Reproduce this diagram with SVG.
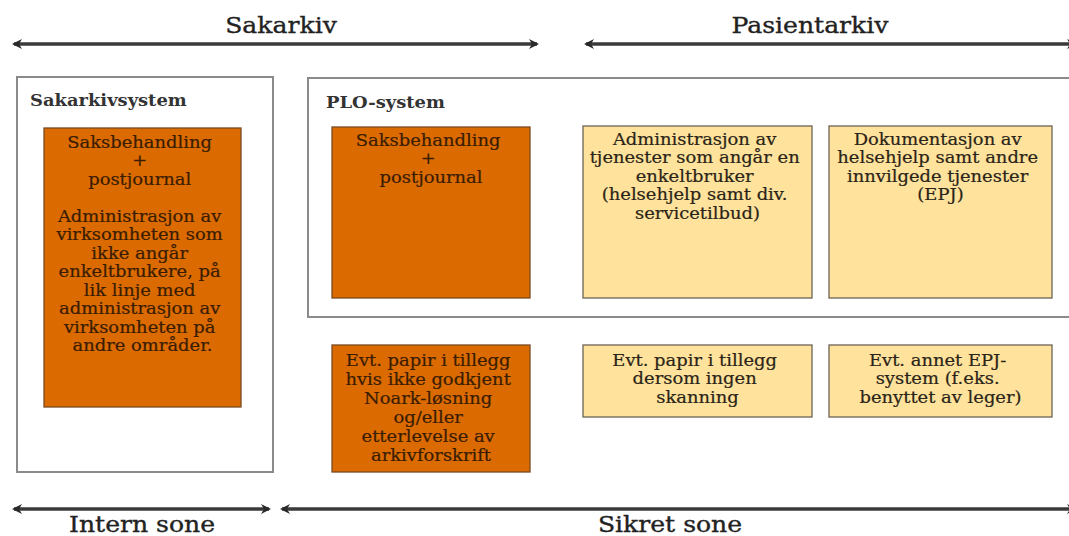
<svg xmlns="http://www.w3.org/2000/svg" width="1069" height="536" viewBox="0 0 1069 536">
<style>
.title{font-family:"DejaVu Serif",serif;font-size:22px;fill:#222;stroke:#222;stroke-width:0.35;text-anchor:middle}
.lbl{font-family:"DejaVu Serif",serif;font-size:16px;font-weight:bold;fill:#333}
.txt{font-family:"DejaVu Serif",serif;font-size:16px;fill:#2a2418;stroke:#2a2418;stroke-width:0.2;text-anchor:middle}
.otxt{font-family:"DejaVu Serif",serif;font-size:16px;fill:#3a1c00;stroke:#3a1c00;stroke-width:0.2;text-anchor:middle}
.sys{fill:#fff;stroke:#8a8a8a;stroke-width:2}
.org{fill:#DB6B00;stroke:#7a4a20;stroke-width:1.3}
.yel{fill:#FFE29B;stroke:#6b6355;stroke-width:1.3}
.arr{stroke:#3a3a3a;stroke-width:3.5;fill:none;marker-start:url(#ah);marker-end:url(#ah)}
</style>
<defs>
<marker id="ah" viewBox="0 0 10 10" refX="8" refY="5" markerWidth="10" markerHeight="11" markerUnits="userSpaceOnUse" orient="auto-start-reverse">
<path d="M0,0 L10,5 L0,10 L3,5 z" fill="#2a2a2a"/>
</marker>
</defs>
<g id="connectors">
<line class="arr" x1="14" y1="44" x2="537" y2="44"/>
<line class="arr" x1="586" y1="44" x2="1075" y2="44"/>
<line class="arr" x1="14" y1="509" x2="269" y2="509"/>
<line class="arr" x1="282" y1="509" x2="1075" y2="509"/>
</g>
<g id="title-sakarkiv"><text class="title" transform="translate(281 33) scale(1.14 1)">Sakarkiv</text></g>
<g id="title-pasientarkiv"><text class="title" transform="translate(810 33) scale(1.14 1)">Pasientarkiv</text></g>
<g id="title-intern"><text class="title" transform="translate(142 532) scale(1.14 1)">Intern sone</text></g>
<g id="title-sikret"><text class="title" transform="translate(670 532) scale(1.14 1)">Sikret sone</text></g>

<g id="sakarkivsystem">
<rect class="sys" x="17" y="77" width="256" height="395"/>
<text class="lbl" transform="translate(30 106) scale(1.12 1)">Sakarkivsystem</text>
</g>
<g id="plo-system">
<rect class="sys" x="308" y="78" width="770" height="239"/>
<text class="lbl" transform="translate(326 108) scale(1.12 1)">PLO-system</text>
</g>

<g id="saksbehandling-1">
<rect class="org" x="44" y="128" width="197" height="279"/>
<text class="otxt" transform="translate(142.5 0) scale(1.12 1)">
<tspan x="0" y="148">Saksbehandling</tspan>
<tspan x="0" y="166.5">+</tspan>
<tspan x="0" y="185">postjournal</tspan>
<tspan x="0" y="222">Administrasjon av</tspan>
<tspan x="0" y="240.5">virksomheten som</tspan>
<tspan x="0" y="259">ikke angår</tspan>
<tspan x="0" y="277.5">enkeltbrukere, på</tspan>
<tspan x="0" y="296">lik linje med</tspan>
<tspan x="0" y="314.5">administrasjon av</tspan>
<tspan x="0" y="333">virksomheten på</tspan>
<tspan x="0" y="351.5">andre områder.</tspan>
</text>
</g>

<g id="saksbehandling-2">
<rect class="org" x="332" y="127" width="198" height="171"/>
<text class="otxt" transform="translate(431 0) scale(1.12 1)">
<tspan x="0" y="146">Saksbehandling</tspan>
<tspan x="0" y="164.5">+</tspan>
<tspan x="0" y="183">postjournal</tspan>
</text>
</g>

<g id="administrasjon">
<rect class="yel" x="583" y="126" width="229" height="172"/>
<text class="txt" transform="translate(697.5 0) scale(1.12 1)">
<tspan x="0" y="145">Administrasjon av</tspan>
<tspan x="0" y="163.5">tjenester som angår en</tspan>
<tspan x="0" y="182">enkeltbruker</tspan>
<tspan x="0" y="200.5">(helsehjelp samt div.</tspan>
<tspan x="0" y="219">servicetilbud)</tspan>
</text>
</g>

<g id="dokumentasjon">
<rect class="yel" x="829" y="126" width="223" height="172"/>
<text class="txt" transform="translate(940.5 0) scale(1.12 1)">
<tspan x="0" y="145">Dokumentasjon av</tspan>
<tspan x="0" y="163.5">helsehjelp samt andre</tspan>
<tspan x="0" y="182">innvilgede tjenester</tspan>
<tspan x="0" y="200.5">(EPJ)</tspan>
</text>
</g>

<g id="papir-noark">
<rect class="org" x="332" y="345" width="198" height="127"/>
<text class="otxt" transform="translate(431 0) scale(1.12 1)">
<tspan x="0" y="366">Evt. papir i tillegg</tspan>
<tspan x="0" y="385">hvis ikke godkjent</tspan>
<tspan x="0" y="404">Noark-løsning</tspan>
<tspan x="0" y="423">og/eller</tspan>
<tspan x="0" y="442">etterlevelse av</tspan>
<tspan x="0" y="461">arkivforskrift</tspan>
</text>
</g>

<g id="papir-skanning">
<rect class="yel" x="583" y="345" width="229" height="72"/>
<text class="txt" transform="translate(697.5 0) scale(1.12 1)">
<tspan x="0" y="366">Evt. papir i tillegg</tspan>
<tspan x="0" y="384.5">dersom ingen</tspan>
<tspan x="0" y="403">skanning</tspan>
</text>
</g>

<g id="annet-epj">
<rect class="yel" x="829" y="345" width="223" height="72"/>
<text class="txt" transform="translate(940.5 0) scale(1.12 1)">
<tspan x="0" y="366">Evt. annet EPJ-</tspan>
<tspan x="0" y="384.5">system (f.eks.</tspan>
<tspan x="0" y="403">benyttet av leger)</tspan>
</text>
</g>
</svg>
